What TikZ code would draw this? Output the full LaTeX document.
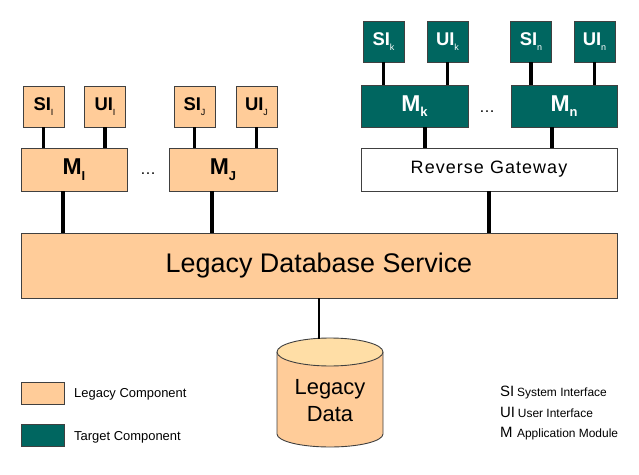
\documentclass[tikz,border=0pt]{standalone}
\usepackage{fontspec}
\setmainfont{Liberation Sans}
\definecolor{peach}{RGB}{255,204,153}
\definecolor{peachtop}{RGB}{255,222,166}
\definecolor{tealc}{RGB}{0,102,96}
\definecolor{edgec}{RGB}{64,64,64}
\newcommand\ssub[1]{\raisebox{-0.3em}{\fontsize{9}{9}\selectfont\mdseries #1}}
\newcommand\msub[1]{\raisebox{-0.25em}{\fontsize{13}{13}\selectfont #1}}
\begin{document}
\begin{tikzpicture}[x=1bp,y=-1bp,
  box/.style={draw=edgec,line width=0.9bp,inner sep=0pt,anchor=center},
  legacy/.style={box,fill=peach,text=black},
  target/.style={box,fill=tealc,text=white},
  smallbox/.style={minimum width=41bp,minimum height=41bp,font=\fontsize{18.5}{18.5}\selectfont\bfseries},
  modbox/.style={minimum width=107bp,minimum height=43bp,font=\fontsize{23}{23}\selectfont\bfseries},
  conn/.style={line width=3.8bp,black},
  dotsstyle/.style={inner sep=0pt,font=\fontsize{16}{16}\selectfont},
  legtext/.style={inner sep=0pt,anchor=west,font=\fontsize{13}{13}\selectfont},
  keytext/.style={inner sep=0pt,anchor=base west},
]
\useasboundingbox (0,0) rectangle (639,475);

% left legacy modules
\node[legacy,smallbox] (sii) at (43.5,106.5) {SI\ssub{I}};
\node[legacy,smallbox] (uii) at (105,106.5) {UI\ssub{I}};
\node[legacy,smallbox] (sij) at (194.5,106.5) {SI\ssub{J}};
\node[legacy,smallbox] (uij) at (256.5,106.5) {UI\ssub{J}};
\node[legacy,modbox,minimum width=106bp] (mi) at (74,169.5) {M\msub{I}};
\node[legacy,modbox,minimum width=108bp] (mj) at (223,169.5) {M\msub{J}};
\node[dotsstyle] (d1) at (148,174) {\dots};

% right target modules
\node[target,smallbox] (sik) at (383.5,41.5) {SI\ssub{k}};
\node[target,smallbox] (uik) at (447.5,41.5) {UI\ssub{k}};
\node[target,smallbox] (sin) at (531,41.5) {SI\ssub{n}};
\node[target,smallbox] (uin) at (594.5,41.5) {UI\ssub{n}};
\node[target,modbox,minimum height=42bp] (mk) at (414.5,106) {M\msub{k}};
\node[target,modbox,minimum width=106bp,minimum height=42bp] (mn) at (564,106) {M\msub{n}};
\node[dotsstyle] (d2) at (487,112) {\dots};
\node[box,fill=white,minimum width=256bp,minimum height=43bp,
      font=\fontsize{18}{18}\selectfont\addfontfeature{LetterSpace=6}] (rg) at (489,169.5) {Reverse Gateway};

% database service
\node[legacy,minimum width=596bp,minimum height=65bp,font=\fontsize{27}{27}\selectfont] (db) at (319,265.5) {Legacy Database Service};

% cylinder
\filldraw[fill=peach,draw=edgec,line width=0.9bp] (277,352) -- (277,434)
  arc[start angle=180,end angle=360,x radius=53bp,y radius=13bp] -- (383,352);
\filldraw[fill=peachtop,draw=edgec,line width=0.9bp] (330,352) ellipse[x radius=53bp,y radius=14bp];
\coordinate (cyltop) at (319,339);
\node[inner sep=0pt,align=center,font=\fontsize{22}{27}\selectfont] (data) at (330,401) {Legacy\\Data};

% connectors
\draw[conn] (sii) -- (sii |- mi.north);
\draw[conn] (uii) -- (uii |- mi.north);
\draw[conn] (sij) -- (sij |- mj.north);
\draw[conn] (uij) -- (uij |- mj.north);
\draw[conn] ([xshift=-11bp]mi.south) -- ([xshift=-11bp]mi.south |- db.north);
\draw[conn] ([xshift=-11bp]mj.south) -- ([xshift=-11bp]mj.south |- db.north);
\draw[conn] (sik) -- (sik |- mk.north);
\draw[conn] (uik) -- (uik |- mk.north);
\draw[conn] (sin) -- (sin |- mn.north);
\draw[conn] (uin) -- (uin |- mn.north);
\draw[conn] ([xshift=10.5bp]mk.south) -- ([xshift=10.5bp]mk.south |- rg.north);
\draw[conn] ([xshift=-12bp]mn.south) -- ([xshift=-12bp]mn.south |- rg.north);
\draw[conn] (rg) -- (rg |- db.north);
\draw[line width=2.4bp,black] (db.south -| cyltop) -- (cyltop);

% legend left
\node[legacy,minimum width=43bp,minimum height=22bp] (lg1) at (42.5,393) {};
\node[target,minimum width=43bp,minimum height=22bp] (lg2) at (42.5,435) {};
\node[legtext] (lt1) at (74,394) {Legacy Component};
\node[legtext] (lt2) at (74,437) {Target Component};

% legend right
\node[keytext] (k1) at (500,396) {{\fontsize{15}{15}\selectfont SI} {\fontsize{12}{12}\selectfont System Interface}};
\node[keytext] (k2) at (500,417) {{\fontsize{15}{15}\selectfont UI} {\fontsize{12}{12}\selectfont User Interface}};
\node[keytext] (k3) at (500,437) {{\fontsize{15}{15}\selectfont M}\, {\fontsize{12}{12}\selectfont Application Module}};
\end{tikzpicture}
\end{document}
